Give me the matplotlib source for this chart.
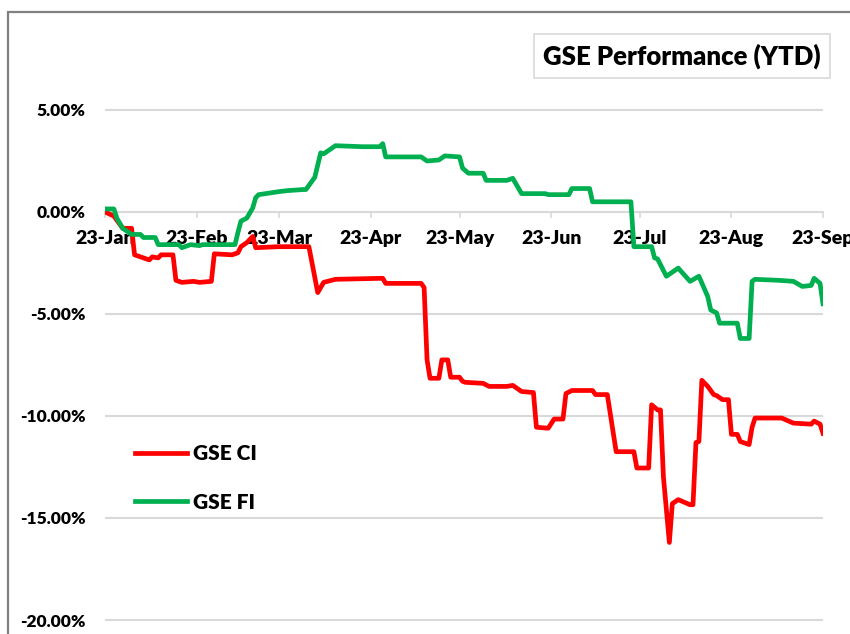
import pandas as pd
import matplotlib.pyplot as plt
import matplotlib.dates as mdates
from matplotlib.patches import Rectangle
from matplotlib.ticker import FuncFormatter

plt.rcParams['font.family'] = ['Lato', 'DejaVu Sans']

# GSE Composite Index, YTD return (%)
ci_dates = ["2023-01-01", "2023-01-04", "2023-01-07", "2023-01-10", "2023-01-11", "2023-01-13",
            "2023-01-16", "2023-01-17", "2023-01-19", "2023-01-20", "2023-01-24", "2023-01-25",
            "2023-01-27", "2023-01-31", "2023-02-02", "2023-02-06", "2023-02-07", "2023-02-13",
            "2023-02-15", "2023-02-16", "2023-02-18", "2023-02-20", "2023-02-21", "2023-03-01",
            "2023-03-11", "2023-03-14", "2023-03-16", "2023-03-20", "2023-04-05", "2023-04-06",
            "2023-04-18", "2023-04-19", "2023-04-20", "2023-04-21", "2023-04-24", "2023-04-25",
            "2023-04-27", "2023-04-28", "2023-05-01", "2023-05-02", "2023-05-03", "2023-05-09",
            "2023-05-11", "2023-05-17", "2023-05-19", "2023-05-22", "2023-05-26", "2023-05-27",
            "2023-05-31", "2023-06-02", "2023-06-05", "2023-06-06", "2023-06-08", "2023-06-15",
            "2023-06-16", "2023-06-20", "2023-06-23", "2023-06-29", "2023-06-30", "2023-07-04",
            "2023-07-05", "2023-07-07", "2023-07-08", "2023-07-09", "2023-07-11", "2023-07-12",
            "2023-07-14", "2023-07-18", "2023-07-19", "2023-07-20", "2023-07-21", "2023-07-22",
            "2023-07-24", "2023-07-26", "2023-07-27", "2023-07-29", "2023-07-31", "2023-08-01",
            "2023-08-03", "2023-08-04", "2023-08-07", "2023-08-08", "2023-08-09", "2023-08-18",
            "2023-08-22", "2023-08-28", "2023-08-29", "2023-08-31", "2023-09-01"]
ci_values = [0.0, -0.2, -0.8, -0.8, -2.1, -2.2,
             -2.35, -2.2, -2.25, -2.1, -2.1, -3.35,
             -3.45, -3.4, -3.45, -3.4, -2.05, -2.1,
             -2.0, -1.7, -1.5, -1.2, -1.75, -1.7,
             -1.7, -3.95, -3.45, -3.3, -3.25, -3.5,
             -3.5, -3.7, -7.25, -8.15, -8.15, -7.25,
             -7.25, -8.1, -8.1, -8.3, -8.35, -8.4,
             -8.55, -8.55, -8.5, -8.8, -8.85, -10.55,
             -10.6, -10.15, -10.15, -8.9, -8.75, -8.75,
             -8.95, -8.95, -11.75, -11.75, -12.55, -12.55,
             -9.45, -9.7, -9.7, -13.0, -16.2, -14.3,
             -14.1, -14.35, -14.35, -11.3, -11.25, -8.25,
             -8.55, -8.95, -9.0, -9.2, -9.2, -10.9,
             -10.9, -11.25, -11.4, -10.55, -10.1, -10.1,
             -10.35, -10.4, -10.25, -10.4, -10.85]

# GSE Financial Stocks Index, YTD return (%)
fi_dates = ["2023-01-01", "2023-01-04", "2023-01-05", "2023-01-07", "2023-01-10", "2023-01-13",
            "2023-01-14", "2023-01-18", "2023-01-19", "2023-01-26", "2023-01-27", "2023-01-30",
            "2023-02-02", "2023-02-03", "2023-02-14", "2023-02-15", "2023-02-16", "2023-02-18",
            "2023-02-20", "2023-02-21", "2023-02-22", "2023-03-01", "2023-03-04", "2023-03-09",
            "2023-03-10", "2023-03-13", "2023-03-15", "2023-03-16", "2023-03-20", "2023-03-29",
            "2023-04-04", "2023-04-05", "2023-04-06", "2023-04-18", "2023-04-20", "2023-04-24",
            "2023-04-26", "2023-05-01", "2023-05-02", "2023-05-04", "2023-05-09", "2023-05-10",
            "2023-05-17", "2023-05-19", "2023-05-22", "2023-05-30", "2023-05-31", "2023-06-07",
            "2023-06-08", "2023-06-14", "2023-06-15", "2023-06-28", "2023-06-29", "2023-07-05",
            "2023-07-06", "2023-07-07", "2023-07-10", "2023-07-14", "2023-07-18", "2023-07-21",
            "2023-07-24", "2023-07-25", "2023-07-27", "2023-07-28", "2023-08-03", "2023-08-04",
            "2023-08-07", "2023-08-08", "2023-08-09", "2023-08-17", "2023-08-22", "2023-08-25",
            "2023-08-28", "2023-08-29", "2023-08-31", "2023-09-01"]
fi_values = [0.15, 0.15, -0.3, -0.8, -1.1, -1.1,
             -1.25, -1.25, -1.6, -1.6, -1.75, -1.6,
             -1.65, -1.6, -1.6, -1.0, -0.45, -0.3,
             0.2, 0.7, 0.85, 1.0, 1.05, 1.1,
             1.1, 1.7, 2.9, 2.85, 3.25, 3.2,
             3.2, 3.35, 2.7, 2.7, 2.5, 2.55,
             2.75, 2.7, 2.15, 1.9, 1.9, 1.55,
             1.55, 1.65, 0.9, 0.9, 0.85, 0.85,
             1.15, 1.15, 0.5, 0.5, -1.7, -1.7,
             -2.25, -2.3, -3.15, -2.75, -3.4, -3.15,
             -4.15, -4.8, -4.95, -5.45, -5.45, -6.2,
             -6.2, -3.4, -3.3, -3.35, -3.4, -3.65,
             -3.6, -3.25, -3.5, -4.5]

y_ticks = [-20, -15, -10, -5, 0, 5]

fig = plt.figure(figsize=(8.5, 6.34), dpi=100)
# axes placed so that 0% sits at y=212px and 5% steps are 102px apart
ax = fig.add_axes([105 / 850, -0.0101, 718 / 850, 0.8688])

ax.plot(pd.to_datetime(ci_dates), ci_values, color='#FF0000', lw=3.4,
        solid_joinstyle='round', label='GSE CI', zorder=3)
ax.plot(pd.to_datetime(fi_dates), fi_values, color='#00B050', lw=3.4,
        solid_joinstyle='round', label='GSE FI', zorder=3)

ax.set_ylim(-21, 6)
ax.set_xlim(pd.Timestamp("2023-01-01"), pd.Timestamp("2023-09-01"))
ax.set_yticks(y_ticks)
ax.yaxis.set_major_formatter(FuncFormatter(lambda v, p: f"{v:.2f}%".replace("-0.00", "0.00")))
ax.xaxis.set_major_locator(mdates.MonthLocator())
ax.xaxis.set_major_formatter(mdates.DateFormatter('%y-%b'))

ax.yaxis.grid(True, color='#D9D9D9', lw=1.5)
ax.set_axisbelow(True)
for s in ['left', 'right', 'top']:
    ax.spines[s].set_visible(False)
ax.spines['bottom'].set_position(('data', 0))
ax.spines['bottom'].set_color('#D9D9D9')
ax.spines['bottom'].set_linewidth(1.5)

ax.tick_params(axis='y', length=0, pad=14, labelsize=12.5)
ax.tick_params(axis='x', direction='out', length=4, width=1.2, color='#D9D9D9', pad=9, labelsize=14)
for lab in ax.get_xticklabels() + ax.get_yticklabels():
    lab.set_fontweight('heavy')

leg = ax.legend(loc='center left', bbox_to_anchor=(135 / 850, (634 - 478) / 634),
                bbox_transform=fig.transFigure, frameon=False, borderpad=0, borderaxespad=0,
                handlelength=2.5, handletextpad=0.3, labelspacing=1.4,
                prop={'weight': 'heavy', 'size': 15})

fig.text(682 / 850, (634 - 56) / 634, "GSE Performance (YTD)", ha='center', va='center',
         fontsize=18.5, fontweight='heavy',
         bbox=dict(boxstyle='square,pad=0.35', fc='white', ec='#D9D9D9', lw=1.2))

# outer chart frame, only its top and left edges fall inside the image
fig.add_artist(Rectangle((8 / 850, -0.5), 2, 0.981 + 0.5, transform=fig.transFigure,
                         fill=False, ec='#808080', lw=1.6))

fig.savefig("out.png", dpi=100)
